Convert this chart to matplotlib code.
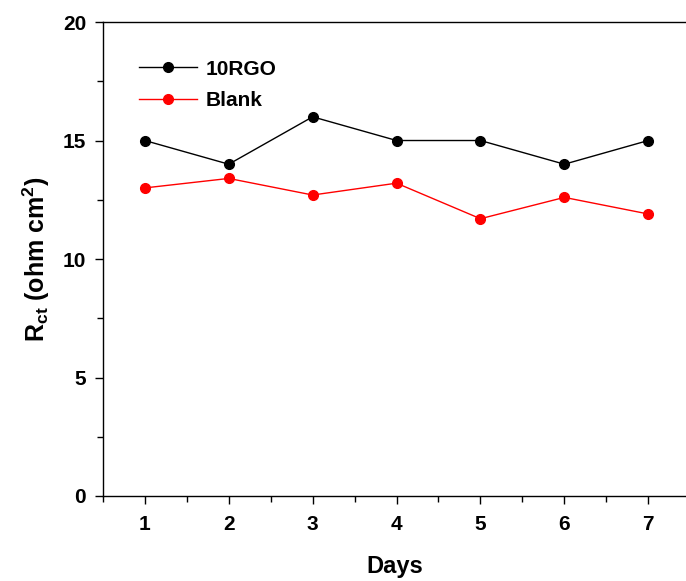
import matplotlib
matplotlib.use("Agg")
import matplotlib.pyplot as plt
from matplotlib.ticker import MultipleLocator

days = [1, 2, 3, 4, 5, 6, 7]
rgo = [15, 14, 16, 15, 15, 14, 15]
blank = [13, 13.4, 12.7, 13.2, 11.7, 12.6, 11.9]

plt.rcParams['font.family'] = ['Liberation Sans', 'DejaVu Sans']
plt.rcParams['font.weight'] = 'bold'
plt.rcParams['mathtext.fontset'] = 'custom'
plt.rcParams['mathtext.rm'] = 'Liberation Sans:bold'

fig = plt.figure(figsize=(6.86, 5.81), dpi=100)
ax = fig.add_axes([0.150, 0.1463, 0.85, 0.8158])

ax.plot(days, rgo, color='black', lw=1, marker='o', ms=7, mfc='black', mec='black', label='10RGO')
ax.plot(days, blank, color='red', lw=1, marker='o', ms=7, mfc='red', mec='red', label='Blank')

ax.set_xlim(0.5, 7.45)
ax.set_ylim(0, 20)
ax.xaxis.set_major_locator(MultipleLocator(1))
ax.xaxis.set_minor_locator(MultipleLocator(0.5))
ax.yaxis.set_major_locator(MultipleLocator(5))
ax.yaxis.set_minor_locator(MultipleLocator(2.5))
ax.tick_params(which='both', direction='out', labelsize=15, width=1)
ax.tick_params(which='major', length=6)
ax.tick_params(which='minor', length=4)
ax.tick_params(axis='x', pad=8)
ax.tick_params(axis='y', pad=6)
ax.spines['right'].set_visible(False)
for s in ['left', 'bottom', 'top']:
    ax.spines[s].set_linewidth(1)
for lab in ax.get_xticklabels() + ax.get_yticklabels():
    lab.set_fontweight('bold')

ax.set_xlabel('Days', fontsize=17, fontweight='bold', labelpad=15)
ax.set_ylabel(r'R$_{\mathregular{ct}}$ (ohm cm$^{\mathregular{2}}$)', fontsize=18, fontweight='bold', labelpad=8)

leg = ax.legend(loc='upper left', bbox_to_anchor=(0.03, 0.96), frameon=False, fontsize=15,
                handlelength=2.8, handletextpad=0.4, labelspacing=0.6)

fig.savefig('out.png', dpi=100)
